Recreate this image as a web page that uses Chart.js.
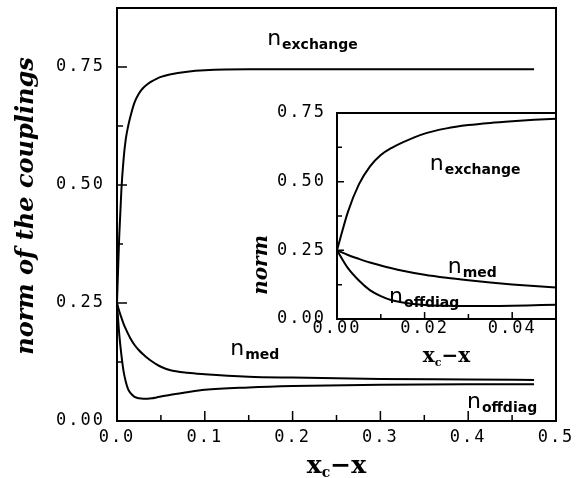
<!DOCTYPE html>
<html>
<head>
<meta charset="utf-8">
<script src="https://cdn.jsdelivr.net/npm/chart.js@4"></script>
<style>
  body { margin: 0; background: #fff; }
  #wrap { position: relative; width: 583px; height: 478px; }
  #mainChart { position: absolute; left: 0; top: 0; }
  #insetChart { position: absolute; left: 240px; top: 100px; }
</style>
</head>
<body>
<div id="wrap">
  <canvas id="mainChart" width="583" height="478"></canvas>
  <canvas id="insetChart" width="320" height="270"></canvas>
</div>
<script>
// x_c - x values and the three norms
const xVals = [0, 0.0025, 0.005, 0.0075, 0.01, 0.0125, 0.015, 0.02, 0.025, 0.03, 0.035, 0.04, 0.045, 0.05, 0.06, 0.08, 0.1, 0.15, 0.2, 0.3, 0.4, 0.475];
const exchange = [0.25, 0.39, 0.49, 0.555, 0.597, 0.623, 0.643, 0.675, 0.694, 0.706, 0.714, 0.72, 0.725, 0.729, 0.734, 0.74, 0.743, 0.745, 0.745, 0.745, 0.745, 0.745];
const med = [0.25, 0.233, 0.219, 0.206, 0.195, 0.185, 0.176, 0.161, 0.15, 0.141, 0.133, 0.126, 0.12, 0.115, 0.108, 0.102, 0.099, 0.094, 0.092, 0.089, 0.088, 0.087];
const offdiag = [0.25, 0.185, 0.14, 0.105, 0.083, 0.068, 0.06, 0.051, 0.048, 0.047, 0.047, 0.048, 0.05, 0.052, 0.055, 0.061, 0.066, 0.071, 0.074, 0.077, 0.078, 0.078];

// tick labels / tick marks
const mainXTicks = [0, 0.1, 0.2, 0.3, 0.4, 0.5];
const mainXMinor = [0.05, 0.15, 0.25, 0.35, 0.45];
const mainYTicks = [0, 0.25, 0.5, 0.75];
const mainYMinor = [0.125, 0.375, 0.625];
const insetXTicks = [0, 0.02, 0.04];
const insetXMinor = [0.01, 0.03];
const insetYTicks = [0, 0.25, 0.5, 0.75];
const insetYMinor = [0.125, 0.375, 0.625];

const tickFont = { family: '"DejaVu Sans Mono", monospace', size: 17 };

const toPts = ys => xVals.map((x, i) => ({ x: x, y: ys[i] }));

function datasets() {
    return [exchange, med, offdiag].map(ys => ({
        data: toPts(ys),
        borderColor: '#000',
        borderWidth: 2,
        pointRadius: 0,
        cubicInterpolationMode: 'monotone',
        fill: false
    }));
}

// "n" with a bold subscript
function drawSub(ctx, x, y, text, sub, size) {
    ctx.font = size + 'px "DejaVu Sans"';
    ctx.textAlign = 'left';
    ctx.textBaseline = 'alphabetic';
    ctx.fillText(text, x, y);
    const w = ctx.measureText(text).width;
    ctx.font = 'bold ' + Math.round(size * 0.64) + 'px "DejaVu Sans"';
    ctx.fillText(sub, x + w + 1, y + 4);
}

// bold serif "x_c - x" centred on cx
function drawXcTitle(ctx, cx, base, size) {
    const big = 'bold ' + size + 'px "DejaVu Serif"';
    const small = 'bold ' + Math.round(size * 0.55) + 'px "DejaVu Serif"';
    ctx.textAlign = 'left';
    ctx.textBaseline = 'alphabetic';
    ctx.font = big;
    const w1 = ctx.measureText('x').width;
    const w3 = ctx.measureText('\u2212x').width;
    ctx.font = small;
    const w2 = ctx.measureText('c').width;
    let x = cx - (w1 + w2 + w3) / 2;
    ctx.font = big; ctx.fillText('x', x, base); x += w1;
    ctx.font = small; ctx.fillText('c', x, base + 4); x += w2;
    ctx.font = big; ctx.fillText('\u2212x', x, base);
}

function decorPlugin(cfg) {
    return {
        id: 'decor',
        beforeDraw(chart) {
            chart.ctx.letterSpacing = '2px';
        },
        afterDraw(chart) {
            const ctx = chart.ctx;
            const a = chart.chartArea;
            const xs = chart.scales.x, ys = chart.scales.y;
            ctx.letterSpacing = '0px';
            ctx.save();
            ctx.strokeStyle = '#000';
            ctx.fillStyle = '#000';
            ctx.lineWidth = 2;
            ctx.strokeRect(a.left, a.top, a.right - a.left, a.bottom - a.top);
            ctx.lineWidth = 1.5;
            ctx.beginPath();
            const xt = (vals, len) => vals.forEach(v => {
                const px = xs.getPixelForValue(v);
                ctx.moveTo(px, a.bottom); ctx.lineTo(px, a.bottom - len);
            });
            const yt = (vals, len) => vals.forEach(v => {
                const py = ys.getPixelForValue(v);
                ctx.moveTo(a.left, py); ctx.lineTo(a.left + len, py);
            });
            xt(cfg.xMajor, cfg.major); xt(cfg.xMinor, cfg.minor);
            yt(cfg.yMajor, cfg.major); yt(cfg.yMinor, cfg.minor);
            ctx.stroke();

            cfg.labels.forEach(l => drawSub(ctx, xs.getPixelForValue(l.x), ys.getPixelForValue(l.y), 'n', l.sub, cfg.labelSize));

            drawXcTitle(ctx, (a.left + a.right) / 2, cfg.xTitleBase, cfg.xTitleSize);

            ctx.translate(cfg.yTitleX, cfg.yTitleY);
            ctx.rotate(-Math.PI / 2);
            ctx.font = 'italic bold ' + cfg.yTitleSize + 'px "DejaVu Serif"';
            ctx.textAlign = 'center';
            ctx.textBaseline = 'middle';
            ctx.fillText(cfg.yTitle, 0, 0);
            ctx.restore();
        }
    };
}

function makeChart(id, c) {
    return new Chart(document.getElementById(id), {
        type: 'line',
        data: { datasets: datasets() },
        options: {
            responsive: false,
            animation: false,
            layout: { padding: c.padding },
            plugins: { legend: { display: false }, tooltip: { enabled: false } },
            scales: {
                x: {
                    type: 'linear', min: c.xMin, max: c.xMax,
                    grid: { display: false },
                    border: { display: false },
                    afterBuildTicks: s => { s.ticks = c.xTicks.map(v => ({ value: v })); },
                    afterFit: s => { s.height = c.xHeight; s.paddingLeft = 0; s.paddingRight = 0; },
                    ticks: { font: tickFont, color: '#000', padding: c.xPad, maxRotation: 0,
                             callback: v => v.toFixed(c.xDigits) }
                },
                y: {
                    type: 'linear', min: c.yMin, max: c.yMax,
                    grid: { display: false },
                    border: { display: false },
                    afterBuildTicks: s => { s.ticks = c.yTicks.map(v => ({ value: v })); },
                    afterFit: s => { s.width = c.yWidth; s.paddingTop = 0; s.paddingBottom = 0; },
                    ticks: { font: tickFont, color: '#000', padding: c.yPad,
                             callback: v => v.toFixed(2) }
                }
            }
        },
        plugins: [decorPlugin(c.decor)]
    });
}

makeChart('mainChart', {
    padding: { left: 0, top: 8, right: 27, bottom: 0 },
    xMin: 0, xMax: 0.5, yMin: 0, yMax: 0.875,
    xTicks: mainXTicks, yTicks: mainYTicks, xDigits: 1,
    xHeight: 57, yWidth: 117, xPad: -2, yPad: 4,
    decor: {
        xMajor: mainXTicks, xMinor: mainXMinor, yMajor: mainYTicks, yMinor: mainYMinor,
        major: 10, minor: 6, labelSize: 22,
        labels: [
            { sub: 'exchange', x: 0.171, y: 0.797 },
            { sub: 'med', x: 0.129, y: 0.14 },
            { sub: 'offdiag', x: 0.3986, y: 0.0275 }
        ],
        xTitleBase: 473, xTitleSize: 25,
        yTitle: 'norm of the couplings', yTitleX: 27, yTitleY: 206, yTitleSize: 24
    }
});

makeChart('insetChart', {
    padding: { left: 0, top: 13, right: 4, bottom: 0 },
    xMin: 0, xMax: 0.05, yMin: 0, yMax: 0.75,
    xTicks: insetXTicks, yTicks: insetYTicks, xDigits: 2,
    xHeight: 51, yWidth: 97, xPad: -9, yPad: 3,
    decor: {
        xMajor: insetXTicks, xMinor: insetXMinor, yMajor: insetYTicks, yMinor: insetYMinor,
        major: 7, minor: 5, labelSize: 22,
        labels: [
            { sub: 'exchange', x: 0.0212, y: 0.542 },
            { sub: 'med', x: 0.0253, y: 0.167 },
            { sub: 'offdiag', x: 0.0119, y: 0.058 }
        ],
        xTitleBase: 262, xTitleSize: 20,
        yTitle: 'norm', yTitleX: 22, yTitleY: 165, yTitleSize: 20
    }
});
</script>
</body>
</html>
